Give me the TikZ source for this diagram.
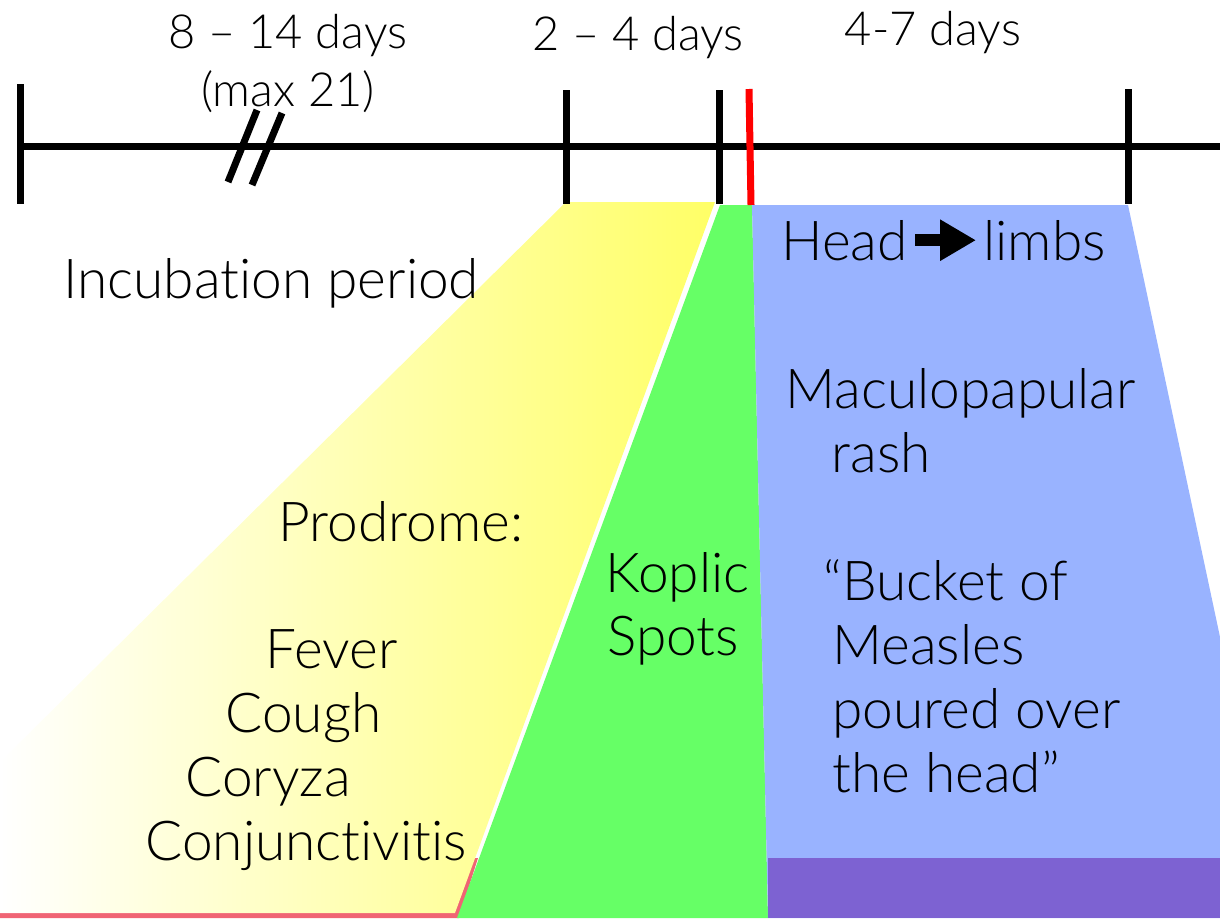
\documentclass[tikz,border=0pt]{standalone}
\usepackage{fontspec}
\setmainfont{Lato Light}[Ligatures=NoCommon]
\usetikzlibrary{arrows.meta}
\definecolor{prodyellow}{HTML}{FFFF66}
\definecolor{kopgreen}{HTML}{66FF66}
\definecolor{rashblue}{HTML}{99B3FF}
\definecolor{rashviolet}{HTML}{7D62D2}
\definecolor{stripred}{HTML}{F06474}
\begin{document}
\begin{tikzpicture}[x=1pt, y=-1pt, line width=7pt,
  big/.style={font=\fontsize{55}{64}\selectfont, inner sep=0pt, anchor=base west},
  days/.style={font=\fontsize{47}{56}\selectfont, inner sep=0pt, anchor=base}]
  \useasboundingbox (0,0) rectangle (1220,918);
  % phases
  \fill[stripred] (0,858) -- (478,858) -- (459,918) -- (0,918) -- cycle;
  \shade[left color=white, right color=prodyellow] (566,202) -- (715,202) -- (455,913) -- (0,913) -- (0,762) -- cycle;
  \fill[kopgreen] (720,205) -- (752,205) -- (768,918) -- (457,918) -- cycle;
  \fill[rashblue] (752,205) -- (1128,205) -- (1220,637) -- (1220,918) -- (768,918) -- cycle;
  \fill[rashviolet] (768,858) rectangle (1220,918);
  % timeline
  \draw (20,146) -- (1220,146);
  \foreach \x/\t in {20/84, 566/90, 719/90, 1128/89}
    \draw (\x,\t) -- (\x,204);
  \draw[red] (749,89) -- (751,205);
  \draw (228,182) -- (257,110);
  \draw (252,185) -- (282,113);
  % durations
  \node[days] (incdays) at (288,48) {8 -- 14 days};
  \node[days] (incmax) at (288,106) {(max 21)};
  \node[days] (proddays) at (638,50) {2 -- 4 days};
  \node[days] (rashdays) at (933,45) {4-7 days};
  % labels
  \node[big] (incub) at (60,298) {Incubation period};
  \node[big] (prod) at (275,541) {Prodrome:};
  \node[big] (fever) at (262,668) {Fever};
  \node[big] (cough) at (222,732) {Cough};
  \node[big] (coryza) at (182,796) {Coryza};
  \node[big] (conj) at (142,860) {Conjunctivitis};
  \node[big] (koplic) at (602,592) {Koplic};
  \node[big] (spots) at (604,655) {Spots};
  \node[big] (head) at (778,260) {Head};
  \node[big] (limbs) at (980,260) {limbs};
  \draw[-{Triangle[length=36pt,width=39pt]}, line width=12pt] ([xshift=4pt]head.east) -- ([xshift=-4pt]limbs.west);
  \node[big] (macu) at (782,408) {Maculopapular};
  \node[big] (rash) at (828,472) {rash};
  \node[big] (bucket) at (820,600) {“Bucket of};
  \node[big] (measles) at (829,664) {Measles};
  \node[big] (poured) at (829,728) {poured over};
  \node[big] (thehead) at (829,792) {the head”};
\end{tikzpicture}
\end{document}
